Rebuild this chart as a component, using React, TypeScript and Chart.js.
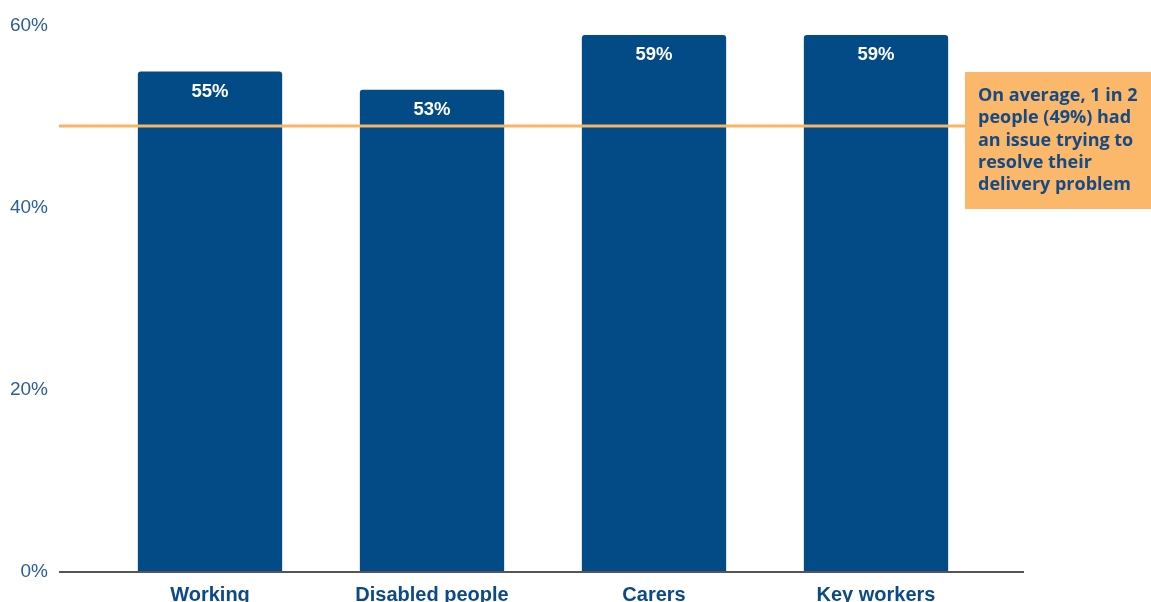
import React, { useEffect, useRef } from "react";
import { Chart, registerables } from "chart.js";

Chart.register(...registerables);

const categories = ["Working", "Disabled people", "Carers", "Key workers"];
const values = [55, 53, 59, 59];
const averageValue = 49;
const yTicks = [0, 20, 40, 60];
const noteLines = [
  "On average, 1 in 2",
  "people (49%) had",
  "an issue trying to",
  "resolve their",
  "delivery problem",
];

const BAR = "#024b87";
const ORANGE = "#f8b565";
const BOX = "#fbb86a";
const NOTE_TEXT = "#154a85";

const overlay = {
  id: "overlay",
  afterDatasetsDraw(chart: any) {
    const { ctx, scales } = chart;
    const y = scales.y;
    const x = scales.x;
    ctx.save();
    ctx.fillStyle = "#ffffff";
    ctx.font = "bold 18.5px 'Liberation Sans', Arial, sans-serif";
    ctx.textAlign = "center";
    ctx.textBaseline = "middle";
    values.forEach((v, i) => {
      ctx.fillText(v + "%", x.getPixelForValue(i), y.getPixelForValue(v) + 20);
    });
    const y0 = y.getPixelForValue(0);
    ctx.strokeStyle = "#555555";
    ctx.lineWidth = 2;
    ctx.beginPath();
    ctx.moveTo(59, y0);
    ctx.lineTo(1024, y0);
    ctx.stroke();
    const ya = y.getPixelForValue(averageValue);
    ctx.strokeStyle = ORANGE;
    ctx.lineWidth = 3;
    ctx.beginPath();
    ctx.moveTo(59, ya);
    ctx.lineTo(966, ya);
    ctx.stroke();
    ctx.fillStyle = BOX;
    ctx.fillRect(965, 72, 186, 137);
    ctx.fillStyle = NOTE_TEXT;
    ctx.font = "bold 18px 'Open Sans', sans-serif";
    ctx.textAlign = "left";
    ctx.textBaseline = "middle";
    noteLines.forEach((l, i) => {
      ctx.fillText(l, 978, 96 + i * 22.3);
    });
    ctx.restore();
  },
};

export default function App() {
  const ref = useRef<HTMLCanvasElement>(null);
  useEffect(() => {
    document.body.style.margin = "0";
    const chart = new Chart(ref.current!, {
      type: "bar",
      data: {
        labels: categories,
        datasets: [
          {
            data: values,
            backgroundColor: BAR,
            barPercentage: 0.65,
            categoryPercentage: 1,
            borderRadius: { topLeft: 3, topRight: 3, bottomLeft: 0, bottomRight: 0 },
            borderSkipped: "bottom",
          },
        ],
      },
      options: {
        animation: false,
        responsive: false,
        layout: { padding: { top: 26, right: 164, left: 0, bottom: 0 } },
        plugins: { legend: { display: false }, tooltip: { enabled: false } },
        scales: {
          x: {
            grid: { display: false, drawTicks: false },
            border: { display: false },
            ticks: {
              color: "#0b4a87",
              font: { family: "'Liberation Sans', Arial, sans-serif", size: 20, weight: "bold" },
              padding: 11,
              maxRotation: 0,
            },
            afterFit(s: any) {
              s.height = 30;
            },
          },
          y: {
            min: 0,
            max: 60,
            grid: { display: false, drawTicks: false },
            border: { display: false },
            afterBuildTicks(s: any) {
              s.ticks = yTicks.map((v) => ({ value: v }));
            },
            ticks: {
              color: "#2a5e97",
              font: { family: "'Liberation Sans', Arial, sans-serif", size: 19 },
              padding: 51,
              callback: (v: any) => v + "%",
            },
            afterFit(s: any) {
              s.width = 99;
              s.paddingTop = 0;
              s.paddingBottom = 0;
            },
          },
        },
      },
      plugins: [overlay],
    });
    return () => chart.destroy();
  }, []);
  return (
    <div style={{ position: "fixed", left: 0, top: 0, width: 1151, height: 602, background: "#fff" }}>
      <canvas ref={ref} width={1151} height={602} style={{ width: 1151, height: 602 }} />
    </div>
  );
}
